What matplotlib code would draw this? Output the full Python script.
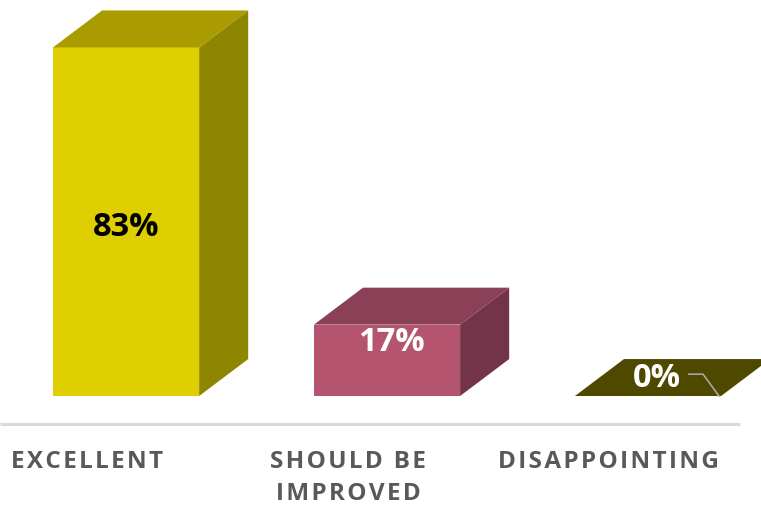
import matplotlib
matplotlib.use("Agg")
import matplotlib.pyplot as plt
from matplotlib.patches import Polygon

categories = ["EXCELLENT", "SHOULD BE\nIMPROVED", "DISAPPOINTING"]
values = [83, 17, 0]
labels = ["83%", "17%", "0%"]

front_colors = ["#DFCE00", "#B5546F", "#4F4900"]
top_colors = ["#AA9C00", "#8A4157", "#4F4900"]
side_colors = ["#8E8500", "#733449", "#4F4900"]
label_colors = ["black", "white", "white"]

# bar geometry in data units (x = category index, y = percent)
width = 0.56
dx, dy = 0.188, 8.8

fig = plt.figure(figsize=(7.61, 5.05), dpi=100)
ax = fig.add_axes([0, 0, 1, 1])
ax.set_xlim(-0.483, 2.433)
ax.set_ylim(-25.95, 94.29)
ax.axis("off")

def spaced(s):
    return "\u200a".join(s)

# floor line
ax.plot([-0.483, 2.352], [-6.7, -6.7], color="#D9D9D9", lw=2.2, solid_capstyle="butt")

for i, v in enumerate(values):
    x0, x1 = i - width / 2, i + width / 2
    if v > 0:
        ax.add_patch(Polygon([(x0, 0), (x1, 0), (x1, v), (x0, v)],
                             closed=True, facecolor=front_colors[i], edgecolor="none"))
        ax.add_patch(Polygon([(x1, 0), (x1 + dx, dy), (x1 + dx, v + dy), (x1, v)],
                             closed=True, facecolor=side_colors[i], edgecolor="none"))
    ax.add_patch(Polygon([(x0, v), (x1, v), (x1 + dx, v + dy), (x0 + dx, v + dy)],
                         closed=True, facecolor=top_colors[i], edgecolor="none"))

# value labels
lx = [0.0, 0.015, 0.035]
ly = [-1.3, 4.2, 4.1]
for i, v in enumerate(values):
    ax.text(i + lx[i], v / 2 + ly[i], labels[i], ha="center", va="center",
            fontsize=23.5, fontweight="bold", color=label_colors[i],
            family=["Open Sans", "DejaVu Sans"])

# leader line for the zero bar
ax.plot([2.157, 2.211, 2.272], [5.2, 5.2, 0], color="#A6A6A6", lw=1.2)

# category names, one text per line
for i, c in enumerate(categories):
    for k, line in enumerate(c.split("\n")):
        ax.text(i - 0.15, -15.8 - 7.5 * k, spaced(line), ha="center", va="center",
                fontsize=17.5, fontweight="bold", color="#595959",
                family=["Open Sans", "DejaVu Sans"])

fig.savefig("out.png", dpi=100)
